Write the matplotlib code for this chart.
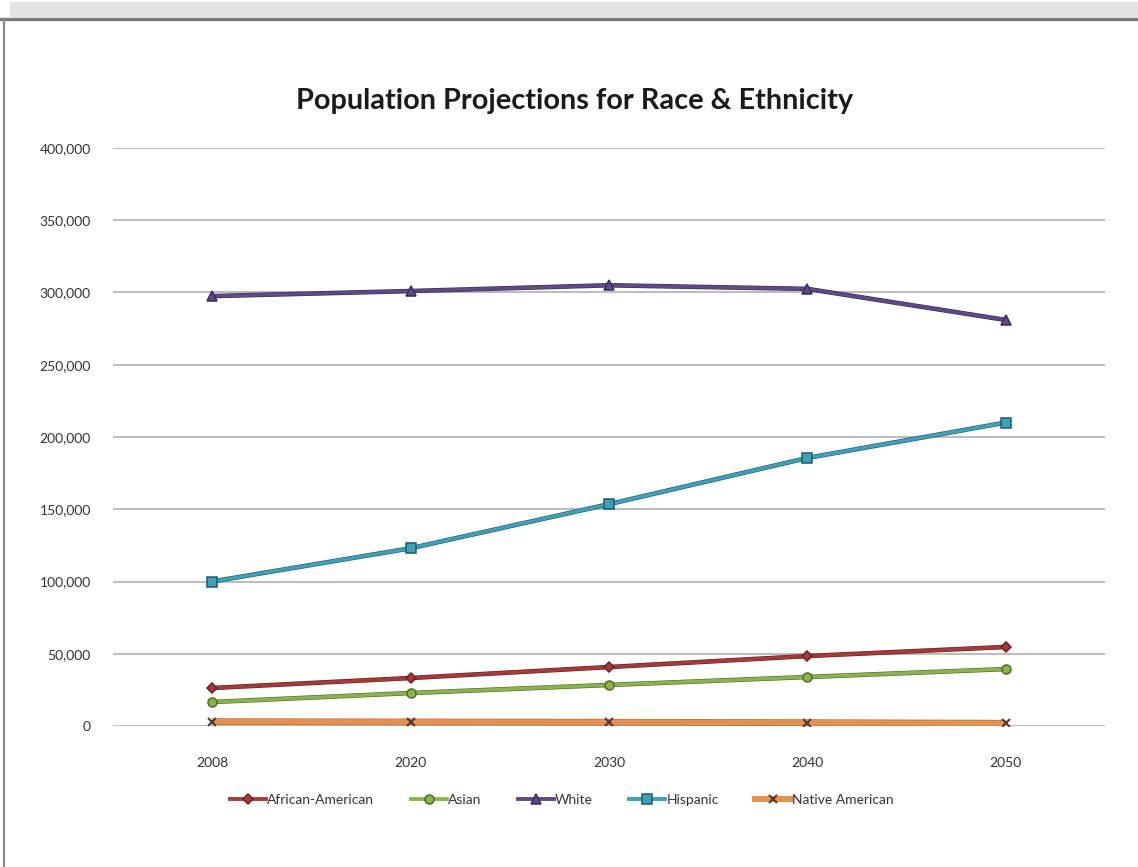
import matplotlib.pyplot as plt
import matplotlib.patheffects as pe
from matplotlib.lines import Line2D
from matplotlib.patches import Rectangle
from matplotlib.ticker import FuncFormatter

#===============================================================================
years = ["2008", "2020", "2030", "2040", "2050"]

african_american = [26300, 33200, 40800, 48400, 54700]
asian = [16600, 22800, 28400, 33900, 39400]
white = [297500, 301000, 305000, 302500, 281000]
hispanic = [100000, 123000, 153500, 185500, 210000]
native_american = [3000, 2800, 2600, 2300, 1900]

y_ticks = [0, 50000, 100000, 150000, 200000, 250000, 300000, 350000, 400000]

#===============================================================================
plt.rcParams["font.family"] = ["Lato", "DejaVu Sans"]

fig = plt.figure(figsize=(11.38, 8.67), dpi=100)
W, H = 1138.0, 867.0

# window chrome around the chart
fig.add_artist(Rectangle((10 / W, 1 - 17 / H), 1, 15 / H, transform=fig.transFigure,
                         facecolor="#e3e3e3", edgecolor="none"))
fig.add_artist(Line2D([0, 1], [1 - 18.5 / H] * 2, transform=fig.transFigure,
                      color="#7a7a7a", lw=2.4))
fig.add_artist(Line2D([4 / W] * 2, [0, 1 - 18.5 / H], transform=fig.transFigure,
                      color="#8c8c8c", lw=1.6))

ax = fig.add_axes([113 / W, 1 - 726 / H, 992 / W, 578 / H])

#===============================================================================
series = [
    ("African-American", african_american, "#a33a3c", "#6e1f22", "D", 5, 2.4),
    ("Asian", asian, "#8db350", "#4f6e25", "o", 6.5, 2.4),
    ("White", white, "#5e4a86", "#3a2c58", "^", 6.5, 2.4),
    ("Hispanic", hispanic, "#3fa0b8", "#1f5a6a", "s", 6.5, 2.4),
    ("Native American", native_american, "#e39050", "#b36f3a", "x", 6, 4.0),
]

x = list(range(len(years)))
handles = []
for name, values, color, edge, marker, size, lw in series:
    cross = marker == "x"
    marker_style = dict(marker=marker, markersize=size,
                        markerfacecolor="#5a3a30" if cross else color,
                        markeredgecolor="#5a3a30" if cross else edge,
                        markeredgewidth=1.5 if cross else 1.1)

    ax.plot(x, values, color=color, lw=lw, zorder=3, solid_capstyle="butt",
            path_effects=[pe.Stroke(linewidth=lw + 0.9, foreground=edge), pe.Normal()])
    ax.plot(x, values, ls="none", zorder=4, **marker_style)

    handles.append(Line2D([], [], color=color, lw=lw + 0.4, label=name, **marker_style))

ax.set_xlim(-0.5, len(years) - 0.5)
ax.set_ylim(0, 400000)
ax.set_xticks(x)
ax.set_xticklabels(years)
ax.set_yticks(y_ticks)
ax.yaxis.set_major_formatter(FuncFormatter(lambda v, pos: f"{int(v):,}"))

ax.grid(axis="y", color="#bdbdbd", lw=1.5)
ax.set_axisbelow(True)
for side in ("top", "right", "left", "bottom"):
    ax.spines[side].set_visible(False)
ax.tick_params(axis="both", length=0, labelsize=10, colors="#333333")
ax.tick_params(axis="y", pad=16)
ax.tick_params(axis="x", pad=22)

fig.text(575 / W, 1 - 101 / H, "Population Projections for Race & Ethnicity",
         ha="center", va="center", fontsize=20.8, fontweight="bold", color="#1a1a1a")

fig.legend(handles=handles, loc="center",
           bbox_to_anchor=(562 / W, 1 - 800 / H), ncol=5, frameon=False,
           fontsize=10, handlelength=2.6, handletextpad=0.1, columnspacing=2.6,
           labelcolor="#333333")

fig.savefig("out.png", dpi=100, facecolor="white")
